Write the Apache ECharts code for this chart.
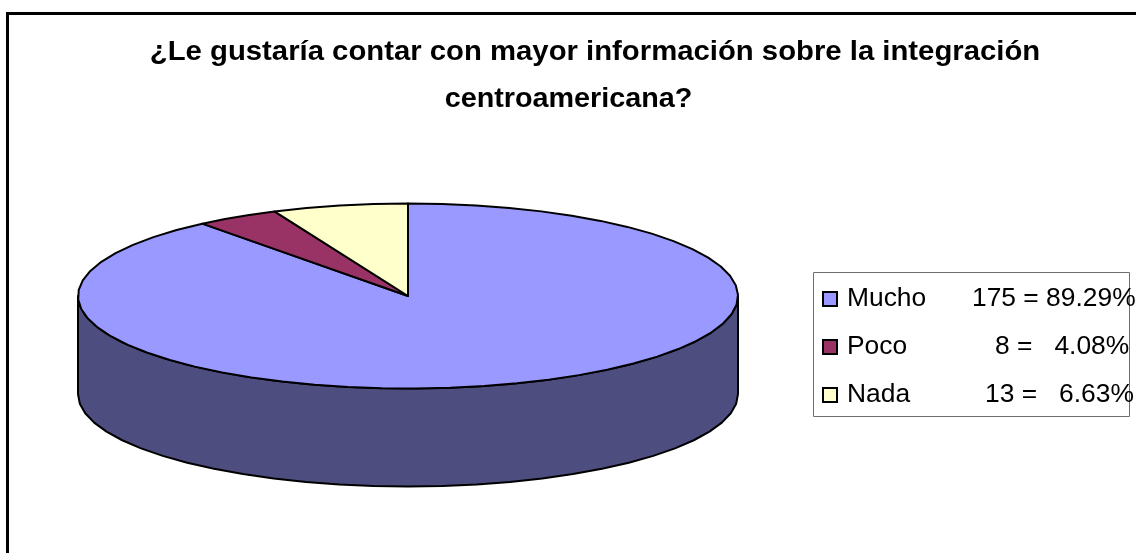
<!DOCTYPE html>
<html><head><meta charset="utf-8">
<style>html,body{margin:0;padding:0;background:#fff}#c{width:1136px;height:553px}</style>
<script src="https://cdn.jsdelivr.net/npm/echarts@6/dist/echarts.min.js"></script>
</head><body><div id="c"></div>
<script>
const categories = ['Mucho', 'Poco', 'Nada'];
const counts = [175, 8, 13];
const legendValues = ['175 = 89.29%', '8 =   4.08%', '13 =   6.63%'];
const topColors = ['#9999FF', '#993366', '#FFFFCC'];
const sideColors = ['#4D4D80', '#4D1A33', '#808066'];
const titleLines = ['¿Le gustaría contar con mayor información sobre la integración', 'centroamericana?'];

const FONT = '"Liberation Sans", Arial, sans-serif';
const CX = 408, CY = 296, RX = 330, RY = 92.5, DEPTH = 98, STEP = 6;
const total = counts.reduce((a, b) => a + b, 0);
const starts = [];
counts.reduce((acc, v, i) => { starts[i] = acc; return acc + v; }, 0);

function pt(deg, dy) {
  const r = deg * Math.PI / 180;
  return [CX + RX * Math.sin(r), CY - RY * Math.cos(r) + (dy || 0)];
}
function arc(a0, a1, dy) {
  const out = [];
  const n = Math.max(1, Math.ceil((a1 - a0) / STEP));
  for (let k = 0; k <= n; k++) out.push(pt(a0 + (a1 - a0) * k / n, dy));
  return out;
}
const lineStyle = { stroke: '#000', lineWidth: 2, lineJoin: 'round' };

function makeSeries(i) {
  return {
    name: categories[i],
    type: 'custom',
    coordinateSystem: 'none',
    silent: true,
    animation: false,
    z: 2 + i,
    itemStyle: { color: topColors[i] },
    data: [counts[i]],
    renderItem: function (params, api) {
      const a0 = starts[i] / total * 360;
      const a1 = (starts[i] + api.value(0)) / total * 360;
      const children = [];
      const s0 = Math.max(a0, 90), s1 = Math.min(a1, 270);
      if (s1 > s0) {
        const front = arc(s0, s1, 0);
        const back = arc(s0, s1, DEPTH).reverse();
        children.push({ type: 'polygon', shape: { points: front.concat(back) },
          style: Object.assign({ fill: sideColors[i] }, lineStyle) });
      }
      children.push({ type: 'polygon', shape: { points: [[CX, CY]].concat(arc(a0, a1, 0)) },
        style: Object.assign({ fill: topColors[i] }, lineStyle) });
      return { type: 'group', children: children };
    }
  };
}

const nameWidths = [125, 148, 138];
const LEG = 26.4;
const rich = {
  v: { fontFamily: FONT, fontSize: LEG, color: '#000', lineHeight: 34 }
};
nameWidths.forEach((w, i) => {
  rich['n' + i] = { fontFamily: FONT, fontSize: LEG, color: '#000', width: w, lineHeight: 34, padding: [0, 0, 0, 5] };
});

function titleEl(text, x, y, sx) {
  return { type: 'text', z: 50, silent: true, x: x, y: y, scaleX: sx,
    style: { text: text, fill: '#000', align: 'center', verticalAlign: 'middle',
      font: 'bold 27px ' + FONT } };
}

const chart = echarts.init(document.getElementById('c'), null, { renderer: 'canvas' });
chart.setOption({
  animation: false,
  backgroundColor: '#fff',
  legend: {
    orient: 'vertical',
    left: 822, top: 282,
    padding: 0,
    itemWidth: 14, itemHeight: 14, itemGap: 14,
    icon: 'rect',
    selectedMode: false,
    align: 'left',
    data: categories.map((c, i) => ({
      name: c,
      itemStyle: { color: topColors[i], borderColor: '#000', borderWidth: 2 }
    })),
    formatter: function (name) {
      const i = categories.indexOf(name);
      return '{n' + i + '|' + name + '}{v|' + legendValues[i] + '}';
    },
    textStyle: { fontFamily: FONT, fontSize: LEG, color: '#000', lineHeight: 48, rich: rich }
  },
  graphic: [
    titleEl(titleLines[0], 595, 53, 1.085),
    titleEl(titleLines[1], 568.5, 100, 1.065),
    { type: 'rect', z: 100, silent: true, shape: { x: 0, y: 108, width: 1136, height: 30 }, style: { fill: '#fff' } },
    { type: 'rect', z: 101, silent: true, shape: { x: 7.5, y: 13.5, width: 1140, height: 560 },
      style: { fill: 'transparent', stroke: '#000', lineWidth: 3 } },
    { type: 'rect', z: -1, silent: true, shape: { x: 813.5, y: 272.5, width: 316, height: 144 },
      style: { fill: 'transparent', stroke: '#6e6e6e', lineWidth: 1 } }
  ],
  series: categories.map((c, i) => makeSeries(i))
});
</script>
</body></html>
